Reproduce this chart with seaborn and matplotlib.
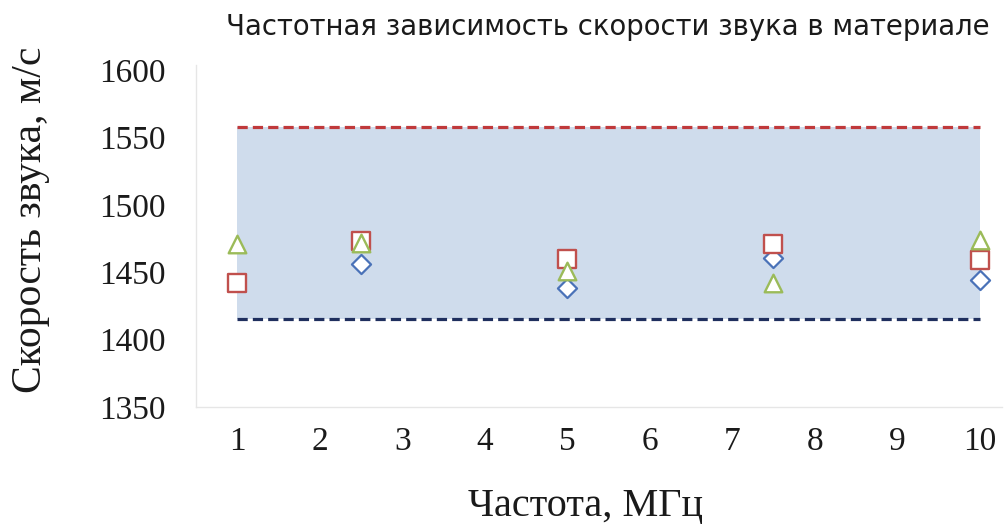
import matplotlib
matplotlib.use("Agg")
import matplotlib.pyplot as plt
import seaborn as sns
import pandas as pd
import numpy as np

# Data
freq_diamond = [2.5, 5, 7.5, 10]
speed_diamond = [1456, 1438, 1461, 1444]
freq_square = [1, 2.5, 5, 7.5, 10]
speed_square = [1442, 1473, 1460, 1471, 1459]
freq_triangle = [1, 2.5, 5, 7.5, 10]
speed_triangle = [1471, 1472, 1451, 1442, 1474]
band_x = [1, 10]
upper_limit = 1558
lower_limit = 1415
x_ticks = [1, 2, 3, 4, 5, 6, 7, 8, 9, 10]
y_ticks = [1350, 1400, 1450, 1500, 1550, 1600]

title = "Частотная зависимость скорости звука в материале"
xlabel = "Частота, МГц"
ylabel = "Скорость звука, м/с"

sns.set_theme(style="white")
plt.rcParams['font.family'] = ['Liberation Serif', 'DejaVu Serif']

fig = plt.figure(figsize=(10.07, 5.30), dpi=100)
ax = fig.add_axes([0.1946, 0.2321, 0.8004, 0.6453])

ax.fill_between(band_x, [lower_limit]*2, [upper_limit]*2, color="#cfdcec", lw=0, zorder=1)
ax.plot(band_x, [upper_limit]*2, color="#c0393b", lw=2.3, dashes=(3.2, 1.6), zorder=2)
ax.plot(band_x, [lower_limit]*2, color="#1f2f5e", lw=2.3, dashes=(3.2, 1.6), zorder=2)

df_d = pd.DataFrame({"f": freq_diamond, "v": speed_diamond})
df_s = pd.DataFrame({"f": freq_square, "v": speed_square})
df_t = pd.DataFrame({"f": freq_triangle, "v": speed_triangle})

sns.scatterplot(data=df_d, x="f", y="v", marker="D", s=95, facecolor="white",
                edgecolor="#4a72b8", linewidth=1.6, ax=ax, zorder=3)
sns.scatterplot(data=df_s, x="f", y="v", marker="s", s=160, facecolor="white",
                edgecolor="#c0504d", linewidth=1.7, ax=ax, zorder=4)
sns.scatterplot(data=df_t, x="f", y="v", marker="^", s=160, facecolor="white",
                edgecolor="#9bbb59", linewidth=1.7, ax=ax, zorder=5)

ax.set_xlim(0.5, 10.27)
ax.set_ylim(1350, 1604)
ax.set_xticks(x_ticks)
ax.set_yticks(y_ticks)
ax.tick_params(axis="both", labelsize=24, length=0, colors="#1a1a1a")
ax.tick_params(axis="x", pad=14)
ax.tick_params(axis="y", pad=22)

for s in ["top", "right"]:
    ax.spines[s].set_visible(False)
for s in ["left", "bottom"]:
    ax.spines[s].set_color("#e6e6e6")
    ax.spines[s].set_linewidth(1.0)

ax.set_xlabel("")
ax.set_ylabel("")
fig.text(0.581, 0.026, xlabel, ha="center", va="baseline", fontsize=29, color="#1a1a1a")
fig.text(0.031, 0.585, ylabel, ha="center", va="center", rotation=90, fontsize=30, color="#1a1a1a")

fig.text(0.983, 0.949, title, ha="right", va="center", fontsize=19.8,
         family=["DejaVu Sans"], color="#1a1a1a")

fig.savefig("out.png", dpi=100, facecolor="white")
